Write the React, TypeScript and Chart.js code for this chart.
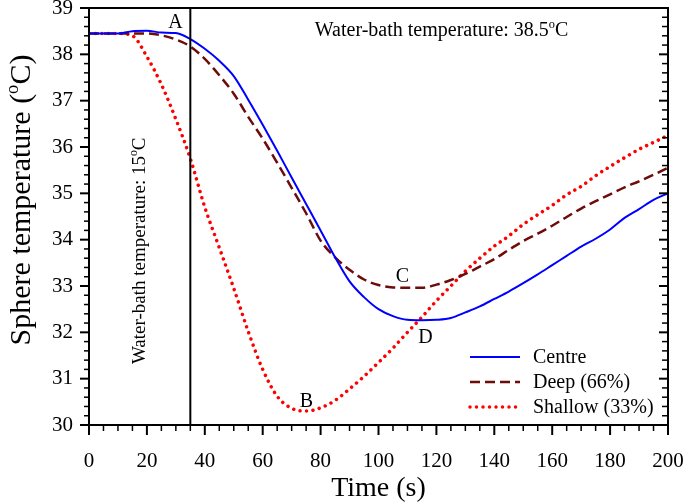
import React, { useEffect, useRef } from "react";
import { Chart, registerables } from "chart.js";

Chart.register(...registerables);

const times = [0, 5, 10, 15, 20, 25, 30, 35, 40, 45, 50, 55, 60, 65, 70, 75, 80, 85, 90, 95, 100, 105, 110, 115, 120, 125, 130, 135, 140, 145, 150, 155, 160, 165, 170, 175, 180, 185, 190, 195, 200];

const centre = [38.45, 38.45, 38.45, 38.5, 38.51, 38.47, 38.46, 38.33, 38.12, 37.86, 37.53, 37.02, 36.48, 35.92, 35.34, 34.77, 34.2, 33.62, 33.1, 32.76, 32.5, 32.35, 32.27, 32.26, 32.27, 32.31, 32.43, 32.56, 32.72, 32.88, 33.06, 33.25, 33.45, 33.65, 33.85, 34.02, 34.22, 34.47, 34.66, 34.86, 35.0];

const deep = [38.45, 38.45, 38.45, 38.45, 38.45, 38.41, 38.32, 38.17, 37.9, 37.55, 37.15, 36.65, 36.18, 35.66, 35.12, 34.57, 33.98, 33.62, 33.35, 33.14, 33.02, 32.97, 32.96, 32.96, 33.03, 33.13, 33.26, 33.42, 33.58, 33.78, 33.97, 34.13, 34.3, 34.49, 34.67, 34.83, 34.98, 35.13, 35.26, 35.4, 35.55];

const shallow = [38.45, 38.45, 38.45, 38.4, 37.95, 37.35, 36.6, 35.75, 34.7, 33.83, 32.95, 32.02, 31.2, 30.62, 30.36, 30.3, 30.37, 30.53, 30.78, 31.05, 31.35, 31.66, 32.0, 32.33, 32.68, 33.0, 33.32, 33.6, 33.86, 34.08, 34.33, 34.54, 34.74, 34.97, 35.15, 35.38, 35.58, 35.77, 35.95, 36.1, 36.25];

const seriesLabels = ["Centre", "Deep (66%)", "Shallow (33%)"];
const markerTime = 35;
const xTicks = { min: 0, max: 200, step: 20, minor: 5 };
const yTicks = { min: 30, max: 39, step: 1, minor: 0.2 };

// Point annotations [text, x, y]
const pointLabels: [string, number, number][] = [
  ["A", 29.9, 38.575],
  ["B", 75.1, 30.39],
  ["C", 108.3, 33.09],
  ["D", 116.2, 31.77],
];

const FONT = "'Liberation Serif', 'Times New Roman', serif";

type Part = [string, boolean];

function drawParts(ctx: CanvasRenderingContext2D, parts: Part[], x: number, y: number, size: number, align: "center" | "left") {
  const supSize = size * 0.62;
  const widths = parts.map(([t, sup]) => {
    ctx.font = `${sup ? supSize : size}px ${FONT}`;
    return ctx.measureText(t).width;
  });
  const total = widths.reduce((a, b) => a + b, 0);
  let cx = align === "center" ? x - total / 2 : x;
  ctx.textAlign = "left";
  ctx.textBaseline = "alphabetic";
  parts.forEach(([t, sup], i) => {
    ctx.font = `${sup ? supSize : size}px ${FONT}`;
    ctx.fillText(t, cx, sup ? y - size * 0.4 : y);
    cx += widths[i];
  });
}

const decorPlugin = {
  id: "decor",
  afterDraw(chart: any) {
    const { ctx, chartArea: a, scales } = chart;
    const x = scales.x;
    const y = scales.y;
    ctx.save();
    ctx.strokeStyle = "#000";
    ctx.fillStyle = "#000";
    ctx.lineWidth = 2;
    ctx.strokeRect(a.left, a.top, a.right - a.left, a.bottom - a.top);

    const line = (x1: number, y1: number, x2: number, y2: number, w: number) => {
      ctx.lineWidth = w;
      ctx.beginPath();
      ctx.moveTo(x1, y1);
      ctx.lineTo(x2, y2);
      ctx.stroke();
    };

    // x ticks (outward, bottom)
    const nx = Math.round((xTicks.max - xTicks.min) / xTicks.minor);
    for (let i = 0; i <= nx; i++) {
      const v = xTicks.min + i * xTicks.minor;
      const px = x.getPixelForValue(v);
      const major = Math.abs(v / xTicks.step - Math.round(v / xTicks.step)) < 1e-6;
      line(px, a.bottom, px, a.bottom + (major ? 10 : 6), major ? 2 : 1.5);
    }
    // y ticks (outward left, inward right)
    const ny = Math.round((yTicks.max - yTicks.min) / yTicks.minor);
    for (let i = 0; i <= ny; i++) {
      const v = yTicks.min + i * yTicks.minor;
      const py = y.getPixelForValue(v);
      const major = i % Math.round(yTicks.step / yTicks.minor) === 0;
      line(a.left - (major ? 9 : 5), py, a.left, py, major ? 2 : 1.5);
      line(a.right - (major ? 9 : 6), py, a.right, py, major ? 2 : 1.5);
    }

    // point labels
    ctx.font = `20px ${FONT}`;
    ctx.textAlign = "center";
    ctx.textBaseline = "alphabetic";
    pointLabels.forEach(([t, tx, ty]) => {
      ctx.fillText(t, x.getPixelForValue(tx), y.getPixelForValue(ty));
    });

    // water-bath annotations
    drawParts(ctx, [["Water-bath temperature: 38.5", false], ["o", true], ["C", false]], x.getPixelForValue(121.8), y.getPixelForValue(38.4), 20, "center");
    ctx.save();
    ctx.translate(x.getPixelForValue(19.3), y.getPixelForValue(33.76));
    ctx.rotate(-Math.PI / 2);
    drawParts(ctx, [["Water-bath temperature: 15", false], ["o", true], ["C", false]], 0, 0, 19, "center");
    ctx.restore();

    // axis titles
    ctx.fillStyle = "#000";
    drawParts(ctx, [["Time (s)", false]], (a.left + a.right) / 2, 496, 28, "center");
    ctx.save();
    ctx.translate(30, 200);
    ctx.rotate(-Math.PI / 2);
    drawParts(ctx, [["Sphere temperature (", false], ["o", true], ["C)", false]], 0, 0, 30, "center");
    ctx.restore();

    // legend
    const ds = chart.data.datasets;
    const rows = [357, 382, 407];
    for (let i = 0; i < 3; i++) {
      const d = ds[i + 1];
      const ly = rows[i];
      ctx.save();
      ctx.strokeStyle = d.borderColor;
      ctx.lineWidth = d.borderWidth;
      ctx.lineCap = d.borderCapStyle || "butt";
      ctx.setLineDash(d.borderDash || []);
      ctx.beginPath();
      ctx.moveTo(470, ly);
      ctx.lineTo(520, ly);
      ctx.stroke();
      ctx.restore();
      ctx.font = `20px ${FONT}`;
      ctx.textAlign = "left";
      ctx.textBaseline = "middle";
      ctx.fillStyle = "#000";
      ctx.fillText(d.label, 533, ly + 1);
    }
    ctx.restore();
  },
};

export default function App() {
  const ref = useRef<HTMLCanvasElement | null>(null);
  useEffect(() => {
    if (!ref.current) return;
    const toPts = (vals: number[]) => times.map((t, i) => ({ x: t, y: vals[i] }));
    const chart = new Chart(ref.current, {
      type: "line",
      data: {
        datasets: [
          {
            label: "marker",
            data: [
              { x: markerTime, y: yTicks.min },
              { x: markerTime, y: yTicks.max },
            ],
            borderColor: "#000",
            borderWidth: 2,
            pointRadius: 0,
          },
          {
            label: seriesLabels[0],
            data: toPts(centre),
            borderColor: "#0000FF",
            borderWidth: 2,
            pointRadius: 0,
            cubicInterpolationMode: "monotone",
          },
          {
            label: seriesLabels[1],
            data: toPts(deep),
            borderColor: "#6E0B0B",
            borderWidth: 2.5,
            borderDash: [10, 5],
            pointRadius: 0,
            cubicInterpolationMode: "monotone",
          },
          {
            label: seriesLabels[2],
            data: toPts(shallow),
            borderColor: "#FF0000",
            borderWidth: 3.5,
            borderDash: [0.001, 6.5],
            borderCapStyle: "round",
            pointRadius: 0,
            cubicInterpolationMode: "monotone",
          },
        ] as any,
      },
      options: {
        animation: false,
        responsive: false,
        devicePixelRatio: 1,
        layout: { padding: { top: 8, right: 17, left: 0, bottom: 0 } },
        plugins: { legend: { display: false }, tooltip: { enabled: false } },
        scales: {
          x: {
            type: "linear",
            min: xTicks.min,
            max: xTicks.max,
            grid: { display: false, drawTicks: false },
            border: { display: false },
            ticks: { stepSize: xTicks.step, padding: 24, color: "#000", font: { family: FONT, size: 21 } },
            afterFit: (s: any) => {
              s.height = 79;
              s.paddingLeft = 0;
              s.paddingRight = 0;
            },
          },
          y: {
            type: "linear",
            min: yTicks.min,
            max: yTicks.max,
            grid: { display: false, drawTicks: false },
            border: { display: false },
            ticks: { stepSize: yTicks.step, padding: 16, color: "#000", font: { family: FONT, size: 21 } },
            afterFit: (s: any) => {
              s.width = 89;
              s.paddingTop = 0;
              s.paddingBottom = 0;
            },
          },
        },
      } as any,
      plugins: [decorPlugin],
    });
    return () => chart.destroy();
  }, []);
  return (
    <div style={{ position: "absolute", left: 0, top: 0, width: 685, height: 504, background: "#fff" }}>
      <canvas ref={ref} width={685} height={504} style={{ display: "block" }} />
    </div>
  );
}
